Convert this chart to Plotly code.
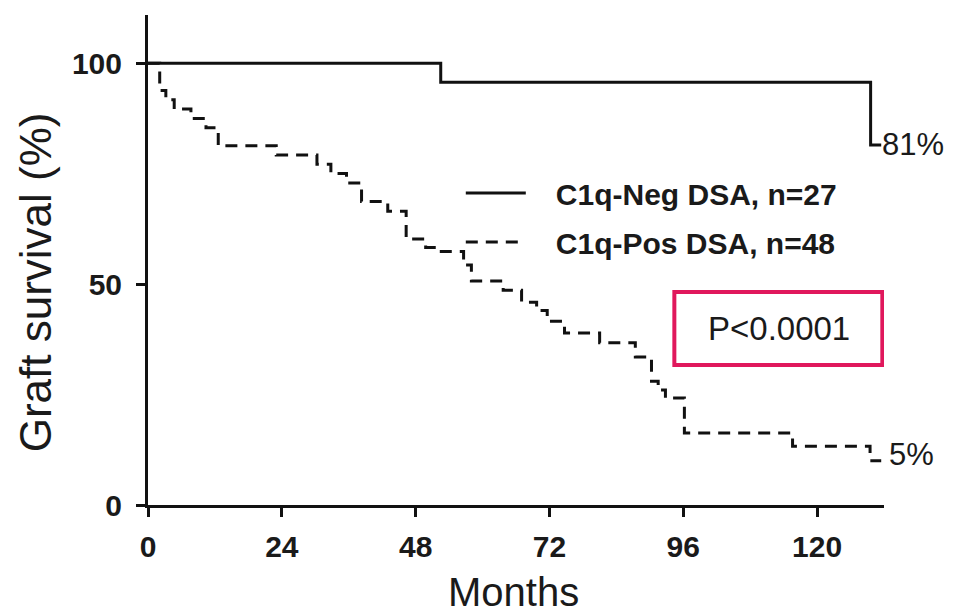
import plotly.graph_objects as go

# ---- data ----
neg_months = [0, 52.5, 129.6, 131.5]
neg_surv = [100, 95.7, 81.5, 81.5]

pos_months = [0, 2.1, 3.2, 4.7, 7.7, 10.4, 12.6, 23.0, 30.3, 32.8, 35.6, 38.3,
              43.0, 46.3, 49.8, 51.8, 56.6, 58.0, 63.7, 67.0, 69.7, 71.6, 74.7,
              81.0, 87.4, 90.3, 91.5, 92.8, 96.2, 115.6, 129.5, 131.5]
pos_surv = [100, 93.8, 91.7, 89.6, 87.5, 85.4, 81.3, 79.2, 77.1, 75.0, 72.9, 68.7,
            66.5, 60.2, 58.3, 57.4, 54.3, 50.7, 48.6, 45.9, 44.0, 41.6, 38.9,
            36.7, 33.5, 28.0, 26.0, 24.2, 16.3, 13.3, 10.0, 10.0]

x_ticks = [0, 24, 48, 72, 96, 120]
y_ticks = [0, 50, 100]

neg_label = "C1q-Neg DSA, n=27"
pos_label = "C1q-Pos DSA, n=48"
neg_end_label = "81%"
pos_end_label = "5%"
p_text = "P<0.0001"
x_title = "Months"
y_title = "Graft survival (%)"

FONT = "Liberation Sans, Arial, sans-serif"
INK = "#1a1a1a"
PAD = "\u00a0\u00a0\u00a0"

fig = go.Figure()
fig.add_trace(go.Scatter(
    x=neg_months, y=neg_surv, mode="lines", name=PAD + neg_label,
    line=dict(color="#111111", width=3, shape="hv"),
    legendgroup="a"))
fig.add_trace(go.Scatter(
    x=pos_months, y=pos_surv, mode="lines", name=PAD + pos_label,
    line=dict(color="#111111", width=3, shape="hv", dash="12px,8px"),
    legendgroup="b"))

fig.add_annotation(x=neg_months[-1], y=neg_surv[-1], text=neg_end_label,
                   xanchor="left", yanchor="middle", showarrow=False, xshift=-1,
                   font=dict(family=FONT, size=31, color=INK))
fig.add_annotation(x=pos_months[-1], y=pos_surv[-1] + 1.5, text=pos_end_label,
                   xanchor="left", yanchor="middle", showarrow=False, xshift=6,
                   font=dict(family=FONT, size=31, color=INK))

# axis titles (y title centred on the 0-100 range as in the reference)
fig.add_annotation(xref="paper", x=-0.1535, yref="y", y=50.4, text=y_title,
                   textangle=-90, showarrow=False, xanchor="center", yanchor="middle",
                   font=dict(family=FONT, size=44, color=INK))
fig.add_annotation(xref="paper", x=0.497, yref="paper", y=0, yshift=-63,
                   text=x_title, showarrow=False, xanchor="center", yanchor="top",
                   font=dict(family=FONT, size=40, color=INK))

# p-value box
fig.add_shape(type="rect", xref="x", yref="y", x0=94.4, x1=131.7, y0=31.7, y1=48.2,
              line=dict(color="#e0185c", width=4), fillcolor="rgba(0,0,0,0)")
fig.add_annotation(x=113.2, y=40, text=p_text, showarrow=False,
                   font=dict(family=FONT, size=33, color=INK))

fig.update_layout(
    width=961, height=616,
    margin=dict(l=148, r=77, t=15, b=111, autoexpand=False),
    paper_bgcolor="white", plot_bgcolor="white",
    font=dict(family=FONT, color=INK),
    showlegend=True,
    legend=dict(x=0.425, y=0.69, xanchor="left", yanchor="top",
                bgcolor="rgba(0,0,0,0)", tracegroupgap=7,
                traceorder="grouped", itemwidth=60,
                font=dict(family=FONT, size=30, color=INK, weight="bold")),
    xaxis=dict(range=[0, 132], tickvals=x_ticks, showgrid=False, zeroline=False,
               showline=True, linecolor="#111111", linewidth=3, automargin=False,
               ticks="outside", ticklen=9, tickwidth=2.5, tickcolor="#111111",
               ticklabelstandoff=4,
               tickfont=dict(family=FONT, size=30, color=INK, weight="bold")),
    yaxis=dict(range=[0, 110.9], tickvals=y_ticks, showgrid=False, zeroline=False,
               showline=True, linecolor="#111111", linewidth=3, automargin=False,
               ticks="outside", ticklen=9, tickwidth=2.5, tickcolor="#111111",
               ticklabelstandoff=8,
               tickfont=dict(family=FONT, size=30, color=INK, weight="bold")),
)

fig.write_html("out.html")
